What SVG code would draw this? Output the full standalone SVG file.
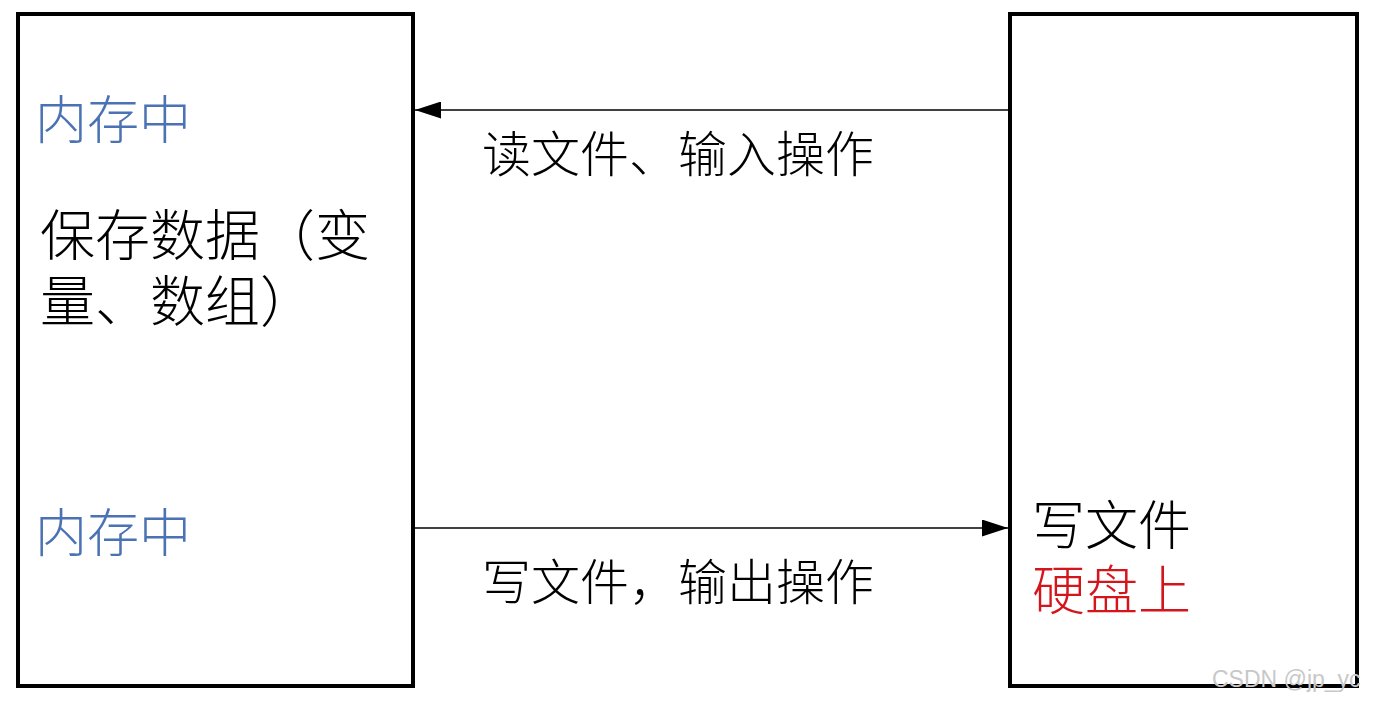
<svg xmlns="http://www.w3.org/2000/svg" width="1375" height="702" viewBox="0 0 1375 702">
<style>
.box{fill:#fff;stroke:#000;stroke-width:4}
.t{font-family:"Noto Sans CJK SC","Liberation Serif",serif;font-weight:300}
.blk{fill:#000}
.blue{fill:#4a72b4}
.red{fill:#d4151b}
.conn{stroke:#000;stroke-width:1.5;fill:none}
</style>
<defs>
<marker id="ah" viewBox="0 0 26 17" refX="26" refY="8.5" markerWidth="26" markerHeight="17" markerUnits="userSpaceOnUse" orient="auto">
<path d="M0,0 L26,8.5 L0,17 Z" fill="#000"/>
</marker>
</defs>
<rect width="1375" height="702" fill="#fff"/>
<g id="memory">
<rect class="box" x="18" y="14" width="395" height="672"/>
<text class="t blue" x="35" y="139" font-size="52">内存中</text>
<text class="t blk" x="40" y="255" font-size="55">保存数据（变</text>
<text class="t blk" x="40" y="321" font-size="55">量、数组）</text>
<text class="t blue" x="35" y="552" font-size="52">内存中</text>
</g>
<g id="disk">
<rect class="box" x="1010" y="14" width="347" height="672"/>
<text class="t blk" x="1032" y="545" font-size="53">写文件</text>
<text class="t red" x="1032" y="610" font-size="53">硬盘上</text>
</g>
<g id="connectors">
<line class="conn" x1="1009" y1="110" x2="415" y2="110" marker-end="url(#ah)"/>
<text class="t blk" x="482" y="172" font-size="49">读文件、输入操作</text>
<line class="conn" x1="415" y1="528" x2="1008" y2="528" marker-end="url(#ah)"/>
<text class="t blk" x="482" y="600" font-size="49">写文件，输出操作</text>
</g>
<text x="1212" y="687" font-family="Liberation Sans,Arial,sans-serif" font-size="23" fill="#c8c8c8">CSDN @jp_yc</text>
</svg>
